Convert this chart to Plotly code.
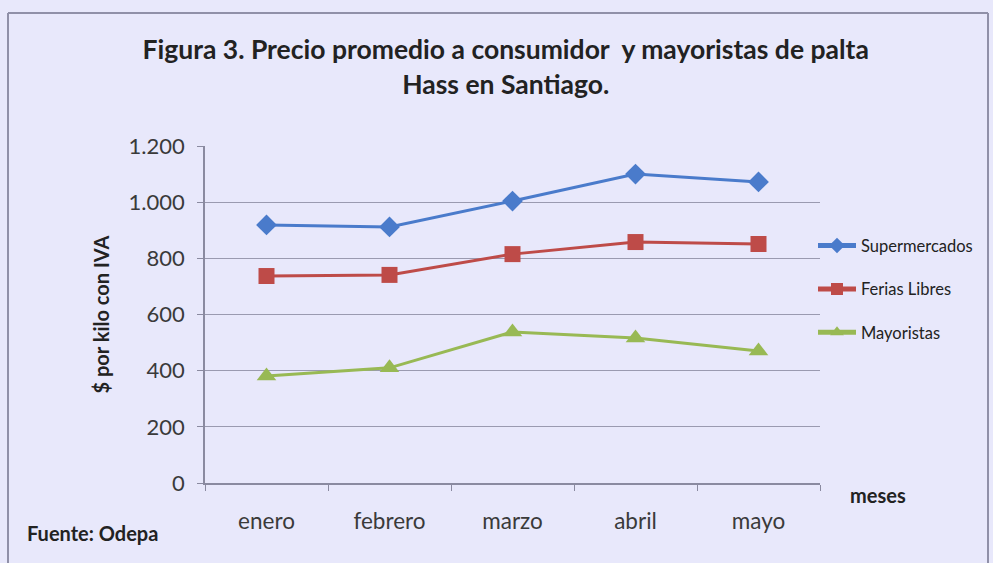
import plotly.graph_objects as go

meses = ["enero", "febrero", "marzo", "abril", "mayo"]
supermercados = [919, 912, 1004, 1100, 1072]
ferias_libres = [737, 741, 815, 858, 851]
mayoristas = [381, 410, 538, 516, 470]
y_ticks = [0, 200, 400, 600, 800, 1000, 1200]
y_tick_labels = ["0", "200", "400", "600", "800", "1.000", "1.200"]

FONT = "Lato"
BG = "#E8E8FB"

fig = go.Figure()
series = [
    ("Supermercados", supermercados, "#4A7BCB", "diamond", 16),
    ("Ferias Libres", ferias_libres, "#BE4B48", "square", 16),
    ("Mayoristas", mayoristas, "#98B954", "triangle-up", 17),
]
for i, (name, vals, col, sym, sz) in enumerate(series):
    fig.add_trace(go.Scatter(
        x=meses, y=vals, name=name, mode="lines+markers",
        line=dict(color=col, width=3),
        marker=dict(symbol=sym, size=sz, color=col),
        legendgroup=f"g{i}",
    ))

fig.update_layout(
    width=993, height=563,
    paper_bgcolor=BG, plot_bgcolor=BG,
    margin=dict(l=205, r=173, t=146, b=80),
    showlegend=True,
    hovermode=False,
    title=dict(
        text="<b>Figura 3. Precio promedio a consumidor  y mayoristas de palta<br>Hass en Santiago.</b>",
        x=0.489, xref="paper", xanchor="center",
        y=0.895, yanchor="top",
        font=dict(family=FONT, size=26.5, color="#222222"),
    ),
    legend=dict(
        x=(813 - 205) / 615, xanchor="left", y=0.575, yanchor="middle",
        font=dict(family=FONT, size=16.5, color="#222222"),
        bgcolor="rgba(0,0,0,0)", tracegroupgap=19,
        traceorder="grouped", itemsizing="constant", itemwidth=38,
    ),
    xaxis=dict(
        type="category", range=[-0.5, 4.5],
        showgrid=False, showline=True, linecolor="#8A8AA0", linewidth=1.5,
        ticks="outside", tickson="boundaries", ticklen=6, tickcolor="#8A8AA0",
        tickfont=dict(family=FONT, size=22.5, color="#3A3A3A"),
        ticklabelstandoff=17,
    ),
    yaxis=dict(
        range=[0, 1200], tickvals=y_ticks, ticktext=y_tick_labels,
        showgrid=True, gridcolor="#9A9AB0", gridwidth=1,
        showline=True, linecolor="#8A8AA0", linewidth=1.5,
        ticks="outside", ticklen=6, tickcolor="#8A8AA0",
        tickfont=dict(family=FONT, size=22, color="#3A3A3A"),
        ticklabelstandoff=8,
        zeroline=False,
        title=dict(text="<b>$ por kilo con IVA</b>", standoff=14,
                   font=dict(family=FONT, size=20, color="#222222")),
    ),
)

# outer frame
fig.add_shape(type="line", xref="paper", yref="paper",
              x0=(8-205)/615, x1=(988-205)/615, y0=(483-13)/337, y1=(483-13)/337,
              line=dict(color="#9090A8", width=2))
fig.add_shape(type="line", xref="paper", yref="paper",
              x0=(8-205)/615, x1=(8-205)/615, y0=(483-13)/337, y1=(483-563)/337,
              line=dict(color="#9090A8", width=2))
fig.add_shape(type="line", xref="paper", yref="paper",
              x0=(988-205)/615, x1=(988-205)/615, y0=(483-13)/337, y1=(483-563)/337,
              line=dict(color="#9090A8", width=2))

fig.add_annotation(text="<b>meses</b>", xref="paper", yref="paper",
                   x=(848-205)/615, y=(483-495)/337, xanchor="left", yanchor="middle",
                   showarrow=False, font=dict(family=FONT, size=20, color="#222222"))
fig.add_annotation(text="<b>Fuente: Odepa</b>", xref="paper", yref="paper",
                   x=(25-205)/615, y=(483-533)/337, xanchor="left", yanchor="middle",
                   showarrow=False, font=dict(family=FONT, size=20, color="#222222"))

fig.write_html("out.html", config={"displayModeBar": False},
               post_script="document.body.style.margin='0';document.body.style.background='#F4F4FF';")
